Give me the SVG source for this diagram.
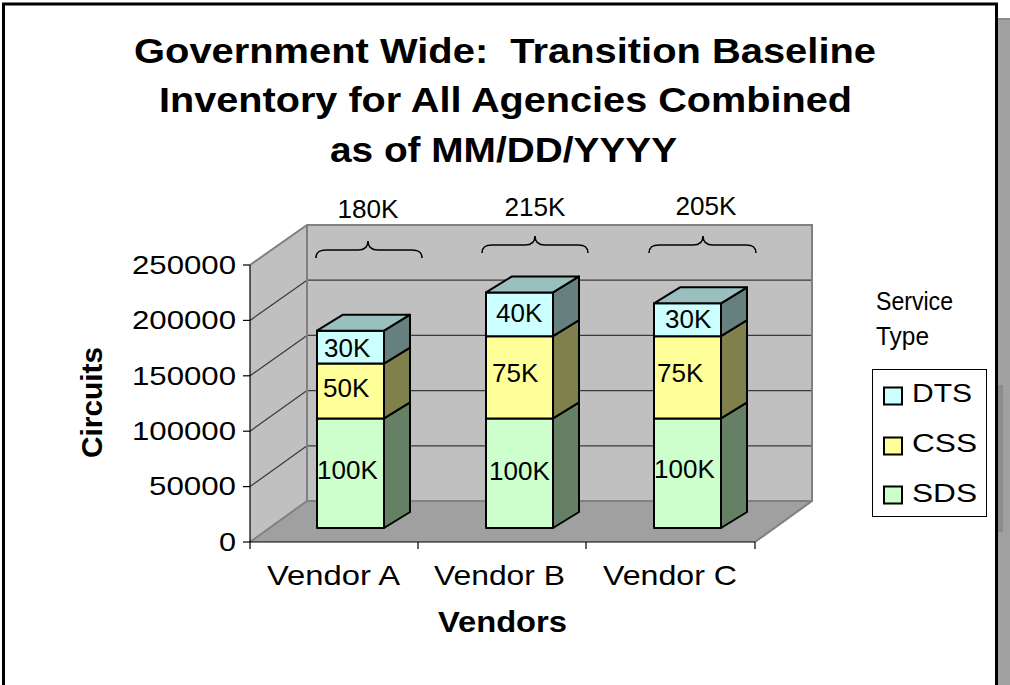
<svg xmlns="http://www.w3.org/2000/svg" width="1010" height="685" viewBox="0 0 1010 685">
<style>
.t{font-family:"Liberation Sans",Arial,sans-serif;fill:#000}
.b{font-weight:bold}
.pre{white-space:pre}
.edge{stroke:#808080;stroke-width:2;fill:none}
.grid{stroke:#3a3a3a;stroke-width:1.2;fill:none}
.ax{stroke:#000;stroke-width:1.2;fill:none}
.bar{stroke:#000;stroke-width:2;stroke-linejoin:round}
.dtsF{fill:#CCFFFF}.dtsT{fill:#99BFBF}.dtsS{fill:#668080}
.cssF{fill:#FFFF99}.cssS{fill:#80804C}
.sdsF{fill:#CCFFCC}.sdsS{fill:#668066}
.brace{stroke:#000;stroke-width:1.6;fill:none}
</style>
<rect width="1010" height="685" fill="#fff"/>
<g id="frame">
<rect x="998" y="18" width="12" height="667" fill="#A0A0A0"/>
<rect x="998" y="18" width="12" height="2" fill="#8C8C8C"/>
<rect x="998" y="385" width="5" height="147" fill="#8C8C8C"/>
<rect x="3.5" y="4" width="993" height="700" fill="#fff" stroke="#000" stroke-width="3"/>
</g>
<g id="title" class="t b" font-size="35.5" text-anchor="middle">
<text class="pre" xml:space="preserve" x="505" y="63" textLength="742" lengthAdjust="spacingAndGlyphs">Government Wide:  Transition Baseline</text>
<text x="505.5" y="112" textLength="693" lengthAdjust="spacingAndGlyphs">Inventory for All Agencies Combined</text>
<text x="503.5" y="162" textLength="347" lengthAdjust="spacingAndGlyphs">as of MM/DD/YYYY</text>
</g>
<g id="plot-area">
<polygon points="250,265 307,225 307,501 250,542" fill="#C0C0C0"/>
<rect x="307" y="225" width="505" height="276" fill="#C0C0C0"/>
<polygon points="250,542 307,501 812,501 755,542" fill="#A0A0A0"/>
<g class="grid">
<line x1="307" y1="280.2" x2="812" y2="280.2"/>
<line x1="307" y1="335.4" x2="812" y2="335.4"/>
<line x1="307" y1="390.6" x2="812" y2="390.6"/>
<line x1="307" y1="445.8" x2="812" y2="445.8"/>
<line x1="250" y1="320.4" x2="307" y2="280.2"/>
<line x1="250" y1="375.8" x2="307" y2="335.4"/>
<line x1="250" y1="431.2" x2="307" y2="390.6"/>
<line x1="250" y1="486.6" x2="307" y2="445.8"/>
</g>
<g class="edge">
<polyline points="250,265 307,225 812,225 812,501 755,542"/>
<line x1="307" y1="225" x2="307" y2="501"/>
<polyline points="250,542 307,501 812,501"/>
</g>
</g>
<g id="axes">
<g class="ax">
<line x1="250" y1="265" x2="250" y2="542"/>
<line x1="250" y1="542" x2="755" y2="542"/>
<line x1="243" y1="265" x2="250" y2="265"/>
<line x1="243" y1="320.4" x2="250" y2="320.4"/>
<line x1="243" y1="375.8" x2="250" y2="375.8"/>
<line x1="243" y1="431.2" x2="250" y2="431.2"/>
<line x1="243" y1="486.6" x2="250" y2="486.6"/>
<line x1="243" y1="542" x2="250" y2="542"/>
<line x1="250" y1="542" x2="250" y2="549"/>
<line x1="418" y1="542" x2="418" y2="549"/>
<line x1="586" y1="542" x2="586" y2="549"/>
<line x1="755" y1="542" x2="755" y2="549"/>
</g>
<g class="t" font-size="25.5" text-anchor="end">
<text x="236" y="274" textLength="104" lengthAdjust="spacingAndGlyphs">250000</text>
<text x="236" y="329" textLength="104" lengthAdjust="spacingAndGlyphs">200000</text>
<text x="236" y="384.5" textLength="104" lengthAdjust="spacingAndGlyphs">150000</text>
<text x="236" y="440" textLength="104" lengthAdjust="spacingAndGlyphs">100000</text>
<text x="236" y="495" textLength="87" lengthAdjust="spacingAndGlyphs">50000</text>
<text x="236" y="551" textLength="17" lengthAdjust="spacingAndGlyphs">0</text>
</g>
<text class="t b" font-size="30" text-anchor="middle" transform="translate(102,402.5) rotate(-90)" textLength="111" lengthAdjust="spacingAndGlyphs">Circuits</text>
<g class="t" font-size="28">
<text x="267" y="585" textLength="133" lengthAdjust="spacingAndGlyphs">Vendor A</text>
<text x="434" y="585" textLength="131" lengthAdjust="spacingAndGlyphs">Vendor B</text>
<text x="603" y="585" textLength="134" lengthAdjust="spacingAndGlyphs">Vendor C</text>
</g>
<text class="t b" x="438" y="632" font-size="30" textLength="129" lengthAdjust="spacingAndGlyphs">Vendors</text>
</g>
<g id="bar-vendor-a" class="bar">
<rect class="sdsF" x="317" y="418.4" width="67" height="109.6"/>
<polygon class="sdsS" points="384,528 410,512 410,402.4 384,418.4"/>
<rect class="cssF" x="317" y="363.6" width="67" height="54.8"/>
<polygon class="cssS" points="384,418.4 410,402.4 410,347.6 384,363.6"/>
<rect class="dtsF" x="317" y="330.7" width="67" height="32.9"/>
<polygon class="dtsS" points="384,363.6 410,347.6 410,314.7 384,330.7"/>
<polygon class="dtsT" points="317,330.7 343,314.7 410,314.7 384,330.7"/>
</g>
<g id="bar-vendor-b" class="bar">
<rect class="sdsF" x="486" y="418.4" width="67" height="109.6"/>
<polygon class="sdsS" points="553,528 579,512 579,402.4 553,418.4"/>
<rect class="cssF" x="486" y="336.2" width="67" height="82.2"/>
<polygon class="cssS" points="553,418.4 579,402.4 579,320.2 553,336.2"/>
<rect class="dtsF" x="486" y="292.4" width="67" height="43.8"/>
<polygon class="dtsS" points="553,336.2 579,320.2 579,276.4 553,292.4"/>
<polygon class="dtsT" points="486,292.4 512,276.4 579,276.4 553,292.4"/>
</g>
<g id="bar-vendor-c" class="bar">
<rect class="sdsF" x="654" y="418.4" width="67" height="109.6"/>
<polygon class="sdsS" points="721,528 747,512 747,402.4 721,418.4"/>
<rect class="cssF" x="654" y="336.2" width="67" height="82.2"/>
<polygon class="cssS" points="721,418.4 747,402.4 747,320.2 721,336.2"/>
<rect class="dtsF" x="654" y="303.3" width="67" height="32.9"/>
<polygon class="dtsS" points="721,336.2 747,320.2 747,287.3 721,303.3"/>
<polygon class="dtsT" points="654,303.3 680,287.3 747,287.3 721,303.3"/>
</g>
<g id="bar-labels" class="t" font-size="26">
<text x="324" y="357">30K</text>
<text x="323" y="397">50K</text>
<text x="317" y="479">100K</text>
<text x="496" y="322">40K</text>
<text x="492" y="382">75K</text>
<text x="489" y="480">100K</text>
<text x="665" y="328">30K</text>
<text x="657" y="382">75K</text>
<text x="654" y="478">100K</text>
</g>
<g id="connectors">
<path class="brace" d="M316,258 C316,252 319,250 326,250 L358,250 C365,250 368,247 368,241 C368,247 371,250 378,250 L412,250 C419,250 422,252 422,258"/>
<path class="brace" d="M482,253 C482,247 485,245 492,245 L525,245 C532,245 535,242 535,236 C535,242 538,245 545,245 L578,245 C585,245 588,247 588,253"/>
<path class="brace" d="M649,253 C649,247 652,245 659,245 L693,245 C700,245 703,242 703,236 C703,242 706,245 713,245 L746,245 C753,245 756,247 756,253"/>
</g>
<g id="total-labels" class="t" font-size="25" text-anchor="middle">
<text x="368" y="218" textLength="61" lengthAdjust="spacingAndGlyphs">180K</text>
<text x="535" y="216" textLength="61" lengthAdjust="spacingAndGlyphs">215K</text>
<text x="706" y="215" textLength="61" lengthAdjust="spacingAndGlyphs">205K</text>
</g>
<g id="legend">
<text class="t" x="876" y="310" font-size="26" textLength="77" lengthAdjust="spacingAndGlyphs">Service</text>
<text class="t" x="876" y="345" font-size="26" textLength="53" lengthAdjust="spacingAndGlyphs">Type</text>
<rect x="872.5" y="369.5" width="114" height="147" fill="#fff" stroke="#000" stroke-width="1"/>
<rect class="dtsF" x="884" y="387.5" width="18" height="17" stroke="#000" stroke-width="2"/>
<rect class="cssF" x="884" y="437.5" width="18" height="17" stroke="#000" stroke-width="2"/>
<rect class="sdsF" x="884" y="486.5" width="18" height="17" stroke="#000" stroke-width="2"/>
<g class="t" font-size="26">
<text x="912" y="402" textLength="60" lengthAdjust="spacingAndGlyphs">DTS</text>
<text x="912" y="452" textLength="65" lengthAdjust="spacingAndGlyphs">CSS</text>
<text x="912" y="502" textLength="65" lengthAdjust="spacingAndGlyphs">SDS</text>
</g>
</g>
</svg>
